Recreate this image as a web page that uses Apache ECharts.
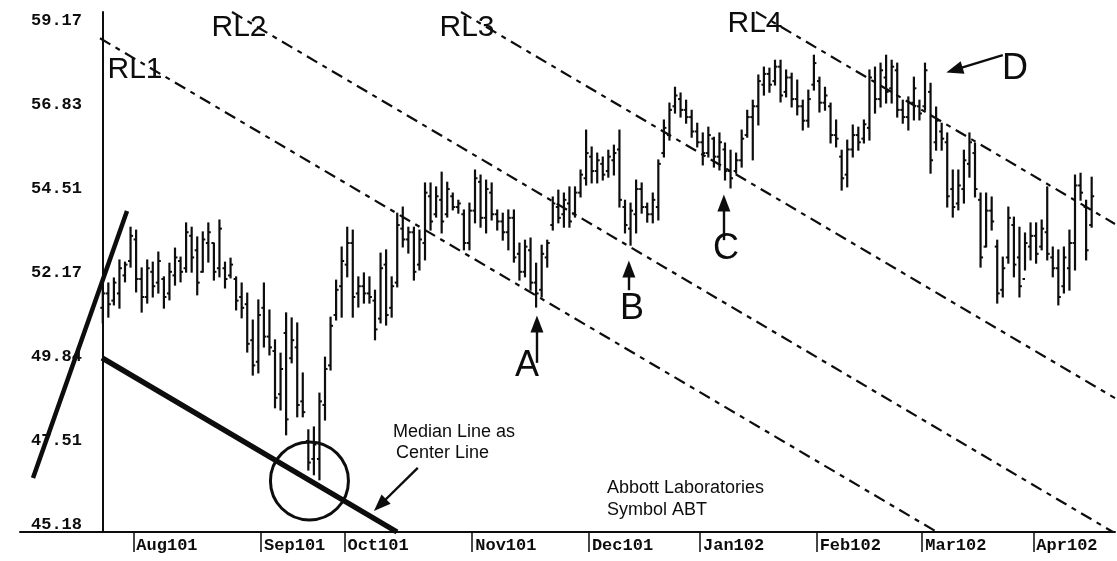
<!DOCTYPE html>
<html><head><meta charset="utf-8">
<script src="https://cdn.jsdelivr.net/npm/echarts@6/dist/echarts.min.js"></script>
<style>html,body{margin:0;padding:0;background:#fff}#c{width:1117px;height:561px}</style>
</head><body><div id="c"></div>
<script>
// ---- tick labels ----
const monthLabels = ['Aug101','Sep101','Oct101','Nov101','Dec101','Jan102','Feb102','Mar102','Apr102'];
const monthStartBar = [6, 29, 44, 67, 88, 108, 129, 148, 168]; // bar index of first trading day of each month
const yTickValues = [45.18, 47.51, 49.84, 52.17, 54.51, 56.83, 59.17];

// ---- daily OHLC (trading days 24 Jul 2001 .. 15 Apr 2002) ----
const opens = [
51.2,51.6,51.4,51.6,52.1,52.5,53.1,52.0,51.5,52.2, 51.9,52.0,51.6,52.1,52.5,52.3,53.2,52.8,52.2,53.0,
53.0,52.3,52.3,52.1,52.0,51.5,51.3,50.3,49.7,51.2, 50.4,50.0,48.8,50.5,49.8,50.1,48.6,47.5,47.0,47.0,
48.5,49.6,51.0,51.8,52.4,53.0,51.6,51.8,51.6,51.4, 50.9,52.4,51.2,51.9,53.4,53.1,53.3,52.4,53.0,54.3,
53.8,54.2,53.8,54.3,54.0,53.8,53.0,53.9,54.7,53.7, 54.4,53.8,53.6,53.3,53.7,52.7,52.2,52.8,51.9,51.7,
52.6,53.5,54.0,53.8,54.1,53.8,54.4,54.8,55.4,55.0, 55.2,55.0,55.3,55.6,54.0,53.4,53.8,54.5,54.0,53.8,
54.0,55.5,56.0,56.8,57.0,56.7,56.5,56.1,55.8,55.5, 55.9,55.4,55.6,55.0,55.0,55.3,56.0,56.5,56.8,57.4,
57.7,57.5,57.9,57.2,57.6,57.0,56.8,56.4,57.4,57.5, 56.9,56.8,56.0,55.4,54.9,55.6,56.0,55.9,56.2,57.5,
57.0,57.6,57.3,57.8,56.7,56.5,56.9,56.8,56.8,57.2, 55.8,56.1,55.8,54.5,54.1,54.5,55.2,55.5,54.2,52.9,
53.9,52.9,51.7,52.6,53.5,52.6,52.0,52.9,53.2,52.9, 53.3,52.6,52.3,51.8,52.3,53.0,54.6,54.0,53.5];
const highs = [
51.97,51.89,52.03,52.53,52.47,53.44,53.36,52.31,52.53,52.47, 52.75,52.06,52.44,52.86,52.61,53.56,53.44,53.17,53.31,53.56,
53.00,53.64,52.47,52.58,52.06,51.89,51.61,50.86,51.42,51.89, 51.14,50.31,49.94,51.06,50.92,50.78,49.39,47.81,47.89,48.83,
49.83,50.94,51.97,52.89,53.44,53.36,52.06,52.17,52.06,51.69, 52.72,52.81,52.06,53.83,54.00,53.44,53.44,53.36,54.67,54.67,
54.56,54.97,54.69,54.39,54.19,53.92,54.11,55.03,54.89,54.75, 54.67,53.92,53.83,53.92,53.92,53.00,53.08,53.14,52.44,52.94,
53.08,54.28,54.47,54.39,54.56,54.56,55.03,56.14,55.67,55.50, 55.39,55.58,55.72,56.14,54.19,54.11,54.75,54.67,54.11,54.39,
55.31,56.42,56.89,57.33,57.17,56.97,56.69,56.33,56.06,56.22, 55.94,56.06,55.78,55.58,55.50,56.14,56.69,56.97,57.67,57.89,
57.86,58.08,58.08,57.81,57.72,57.53,56.97,57.25,58.22,57.61, 57.33,56.89,56.42,55.58,55.86,56.28,56.22,56.42,57.81,57.89,
58.00,58.22,58.08,58.00,56.97,57.06,57.61,56.97,58.00,57.44, 56.78,56.33,56.06,55.03,55.03,55.58,56.06,55.78,54.39,54.39,
54.28,53.08,52.61,54.00,53.72,53.44,53.28,53.56,53.56,53.64, 54.56,52.89,52.81,52.89,53.36,54.89,54.94,54.19,54.83];
const lows = [
50.78,50.94,51.28,51.19,51.92,52.33,51.64,51.08,51.33,51.50, 51.61,51.19,51.42,51.83,51.92,52.19,52.19,51.56,52.19,52.47,
51.97,52.06,51.75,52.03,51.14,50.92,49.97,49.33,49.39,50.11, 49.89,48.42,48.36,47.67,49.67,48.17,48.17,46.69,46.56,46.42,
48.08,49.47,50.86,50.94,52.06,50.94,51.22,51.33,51.33,50.31, 50.78,50.72,50.94,51.78,52.89,52.72,51.97,52.25,52.53,53.36,
53.72,53.28,53.72,53.92,53.83,52.81,52.81,53.56,53.44,53.28, 53.64,53.36,53.08,52.81,52.47,51.97,52.06,51.69,51.22,51.50,
52.33,53.36,53.56,53.44,53.44,53.72,54.28,54.61,54.67,54.67, 54.75,54.83,54.89,54.00,53.28,52.94,53.28,53.83,53.58,53.56,
53.64,55.39,55.86,56.61,56.50,56.33,55.94,55.67,55.17,55.39, 55.11,55.03,54.75,54.53,54.94,55.11,55.94,55.31,56.28,57.11,
57.19,57.39,56.92,57.06,56.78,56.56,56.14,56.22,57.25,56.64, 56.69,55.78,55.67,54.47,54.56,55.39,55.58,55.78,55.86,56.61,
56.78,56.89,56.89,56.50,56.33,56.14,56.42,56.42,56.69,54.94, 55.58,55.58,54.00,53.72,53.92,54.11,54.83,54.28,52.33,52.89,
53.36,51.33,51.50,52.44,52.06,51.50,52.25,52.53,52.44,52.81, 52.53,52.06,51.28,51.61,51.69,52.25,54.19,52.53,53.44];
const closes = [
51.6,51.3,51.9,52.3,52.4,53.2,52.0,51.5,52.3,51.8, 52.5,51.5,52.2,52.6,52.2,53.3,52.6,51.9,53.1,53.3,
52.2,53.4,52.0,52.4,51.4,51.2,50.2,49.6,51.0,50.4, 50.1,48.7,49.5,48.1,50.3,48.5,48.3,46.9,47.4,48.6,
49.5,50.7,51.7,52.5,53.0,51.5,51.8,51.6,51.5,50.6, 52.3,51.0,51.8,53.5,53.1,53.3,52.2,53.1,54.4,53.6,
54.3,53.6,54.5,54.0,54.1,53.0,53.9,54.8,53.7,54.5, 53.8,53.6,53.3,53.7,52.6,52.2,52.9,51.9,51.6,52.7,
53.0,54.1,53.7,54.2,53.6,54.4,54.9,55.5,55.0,55.3, 54.9,55.4,55.5,54.2,53.5,53.9,54.5,54.0,53.8,54.2,
55.2,56.2,56.7,57.1,56.7,56.5,56.1,55.8,55.5,56.0, 55.4,55.8,55.0,54.8,55.3,55.9,56.5,56.8,57.5,57.7,
57.4,57.9,57.1,57.6,57.0,56.8,56.4,57.0,58.0,56.9, 57.1,56.0,55.9,54.8,55.6,56.0,55.8,56.3,57.6,57.0,
57.8,57.2,57.9,56.7,56.5,56.9,57.3,56.6,57.8,55.3, 56.4,55.9,54.3,54.0,54.6,55.3,55.8,54.5,52.6,53.9,
53.6,51.6,52.3,53.7,52.4,51.8,53.0,53.2,52.7,53.4, 52.7,52.3,51.5,52.6,53.0,54.6,54.4,52.8,54.3];

// ---- drawn lines, [barIndex, price] endpoints ----
const rl1 = [[-0.5, 58.69], [150.15, 44.97]];
const rl2 = [[23.26, 59.42], [181.83, 44.97]];
const rl3 = [[64.48, 59.42], [182.2, 48.69]];
const rl4 = [[117.57, 59.42], [182.2, 53.53]];
const medianLine = [[-0.14, 49.81], [52.96, 44.97]];
const upLine = [[-12.56, 46.47], [4.36, 53.89]];
const circleCenter = [37.2, 46.39];
const arrowA = [[78.15, 49.67], [78.15, 50.75]];
const arrowB = [[94.7, 51.69], [94.7, 52.28]];
const arrowC = [[111.8, 53.08], [111.8, 54.11]];
const arrowD = [[162.0, 58.22], [153.3, 57.81]];
const arrowMedian = [[56.7, 46.75], [49.9, 45.72]];

const ohlc = opens.map((o, i) => [i, o, highs[i], lows[i], closes[i]]);
const INK = '#0d0d0d';

function renderBar(params, api) {
  const x = api.value(0);
  const pO = api.coord([x, api.value(1)]);
  const pH = api.coord([x, api.value(2)]);
  const pL = api.coord([x, api.value(3)]);
  const pC = api.coord([x, api.value(4)]);
  const w = api.size([1, 0])[0] * 0.45;
  const st = { stroke: INK, lineWidth: 2.2 };
  return { type: 'group', children: [
    { type: 'line', shape: { x1: pH[0], y1: pH[1] - 0.5, x2: pL[0], y2: pL[1] + 0.5 }, style: st },
    { type: 'line', shape: { x1: pO[0] - w, y1: pO[1], x2: pO[0], y2: pO[1] }, style: { stroke: INK, lineWidth: 2 } },
    { type: 'line', shape: { x1: pC[0], y1: pC[1], x2: pC[0] + w, y2: pC[1] }, style: { stroke: INK, lineWidth: 2 } }
  ]};
}

const dash = [12, 6, 5, 6];
function trend(data, width, type) {
  return { type: 'line', data: data, symbol: 'none', silent: true, animation: false,
    lineStyle: { color: INK, width: width, type: type, cap: 'butt', opacity: 1 }, z: 3 };
}
function arrowItem(seg) {
  return [{ coord: seg[0] }, { coord: seg[1] }];
}

const chart = echarts.init(document.getElementById('c'), null, { renderer: 'canvas' });
const txt = (t, x, y, size, align) => ({
  type: 'text', x: x, y: y, z: 10, silent: true,
  style: { text: t, fill: INK, font: size + 'px "Liberation Sans", Arial, sans-serif',
    textAlign: align || 'center', textVerticalAlign: 'middle' }
});

chart.setOption({
  backgroundColor: '#ffffff',
  animation: false,
  grid: { left: 20, right: 2, top: 12, bottom: 29, containLabel: false },
  xAxis: {
    type: 'value', min: -14.9, max: 182.2,
    splitLine: { show: false },
    axisLine: { show: true, lineStyle: { color: INK, width: 2 } },
    axisTick: { show: true, customValues: monthStartBar.map(v => v - 0.5), length: 20,
      lineStyle: { color: INK, width: 1.5 } },
    axisLabel: { show: true, customValues: monthStartBar.map(v => v - 0.5), align: 'left',
      margin: 5, padding: [0, 0, 0, 3],
      color: INK, fontFamily: '"Liberation Mono", "DejaVu Sans Mono", monospace', fontWeight: 'bold', fontSize: 17,
      formatter: v => monthLabels[monthStartBar.indexOf(Math.round(v + 0.5))] || '' }
  },
  yAxis: {
    type: 'value', min: 44.97, max: 59.42, offset: -80,
    splitLine: { show: false },
    axisLine: { show: true, lineStyle: { color: INK, width: 2 } },
    axisTick: { show: false },
    axisLabel: { show: true, customValues: yTickValues, margin: 18,
      color: INK, fontFamily: '"Liberation Mono", "DejaVu Sans Mono", monospace', fontWeight: 'bold', fontSize: 17,
      formatter: v => v.toFixed(2) }
  },
  series: [
    { type: 'custom', renderItem: renderBar, data: ohlc, encode: { x: 0, y: [1, 2, 3, 4] }, z: 2, silent: true },
    trend(rl1, 2.2, dash),
    trend(rl2, 2.2, dash),
    trend(rl3, 2.2, dash),
    trend(rl4, 2.2, dash),
    trend(medianLine, 5.5, 'solid'),
    trend(upLine, 4.5, 'solid'),
    { type: 'scatter', data: [circleCenter], symbol: 'circle', symbolSize: 78, silent: true, z: 4,
      itemStyle: { color: 'rgba(0,0,0,0)', borderColor: INK, borderWidth: 3, opacity: 1 } },
    { type: 'line', data: [], silent: true, z: 5,
      markLine: { silent: true, symbol: ['none', 'triangle'], symbolSize: [13, 17], animation: false,
        label: { show: false },
        lineStyle: { color: INK, width: 2.4, type: 'solid', opacity: 1 },
        data: [arrowItem(arrowA), arrowItem(arrowB), arrowItem(arrowC), arrowItem(arrowD), arrowItem(arrowMedian)] } }
  ],
  graphic: [
    txt('RL1', 135, 70, 30),
    txt('RL2', 239, 28, 30),
    txt('RL3', 467, 28, 30),
    txt('RL4', 755, 24, 30),
    txt('A', 527, 366, 36),
    txt('B', 632, 309, 36),
    txt('C', 726, 249, 36),
    txt('D', 1015, 69, 36),
    txt('Median Line as', 393, 432, 18, 'left'),
    txt('Center Line', 396, 453, 18, 'left'),
    txt('Abbott Laboratories', 607, 488, 18, 'left'),
    txt('Symbol ABT', 607, 510, 18, 'left')
  ]
});
</script>
</body></html>
